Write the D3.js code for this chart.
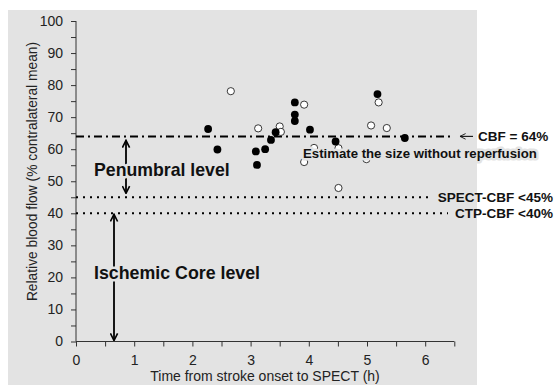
<!DOCTYPE html>
<html>
<head>
<meta charset="utf-8">
<script src="https://cdn.jsdelivr.net/npm/d3@7"></script>
<style>
  body { margin: 0; background: #fff; }
  svg { display: block; font-family: "Liberation Sans", Arial, sans-serif; }
</style>
</head>
<body>
<div id="chart"></div>
<script>
// patients treated (filled) and not (open): time from onset (h), relative CBF (%)
var filledTime = [2.27, 2.43, 3.09, 3.11, 3.25, 3.35, 3.43, 3.76, 3.76, 3.76, 4.02, 4.46, 5.18, 5.65];
var filledCbf  = [66.3, 59.9, 59.3, 55.1, 60.0, 62.9, 65.3, 74.6, 70.8, 68.8, 66.1, 62.4, 77.2, 63.5];
var openTime = [2.66, 3.13, 3.50, 3.52, 3.92, 3.92, 4.09, 4.51, 4.51, 4.99, 5.07, 5.20, 5.34];
var openCbf  = [78.1, 66.5, 67.1, 65.4, 73.9, 56.0, 60.4, 60.3, 47.9, 56.9, 67.4, 74.6, 66.6];

var xTicks = [0, 1, 2, 3, 4, 5, 6];
var yTicks = [0, 10, 20, 30, 40, 50, 60, 70, 80, 90, 100];

// threshold lines
var cbfLine = 64, spectLine = 45, ctpLine = 40;

var W = 555, H = 385;
var bg = "#e3e3e3";

var svg = d3.select("#chart").append("svg")
  .attr("width", W)
  .attr("height", H);

// gray panel behind the plot
svg.append("rect")
  .attr("x", 8).attr("y", 10)
  .attr("width", 469).attr("height", H - 10)
  .attr("fill", bg);

var x = d3.scaleLinear().domain([0, 6.5]).range([76, 454.3]);
var y = d3.scaleLinear().domain([0, 100]).range([341.5, 21]);

// arrow markers
var defs = svg.append("defs");
defs.append("marker")
  .attr("id", "arr")
  .attr("viewBox", "0 0 10 10")
  .attr("refX", 9).attr("refY", 5)
  .attr("markerWidth", 9).attr("markerHeight", 9)
  .attr("markerUnits", "userSpaceOnUse")
  .attr("orient", "auto-start-reverse")
  .append("path")
  .attr("d", "M1,1 L9,5 L1,9")
  .attr("fill", "none")
  .attr("stroke", "#000")
  .attr("stroke-width", 1.8);

defs.append("marker")
  .attr("id", "arrSmall")
  .attr("viewBox", "0 0 10 10")
  .attr("refX", 9).attr("refY", 5)
  .attr("markerWidth", 7).attr("markerHeight", 7)
  .attr("markerUnits", "userSpaceOnUse")
  .attr("orient", "auto")
  .append("path")
  .attr("d", "M1,1 L9,5 L1,9")
  .attr("fill", "none")
  .attr("stroke", "#111")
  .attr("stroke-width", 1.3);

// x axis with half-hour minor ticks
var xAxis = svg.append("g")
  .attr("transform", "translate(0," + y(0) + ")")
  .call(d3.axisBottom(x).tickValues(d3.range(0, 6.51, 0.5)).tickSize(5)
    .tickFormat(function(d){ return xTicks.indexOf(d) >= 0 ? d : ""; }));
xAxis.select(".domain").attr("d", "M" + x(0) + ",0H" + x(6.5)).attr("stroke", "#333");
xAxis.selectAll(".tick line").attr("stroke", "#333");
xAxis.selectAll("text").attr("font-size", 14).attr("fill", "#222").attr("dy", "1.1em");

// y axis with minor ticks every 5
var yAxis = svg.append("g")
  .attr("transform", "translate(" + x(0) + ",0)")
  .call(d3.axisLeft(y).tickValues(d3.range(0, 101, 5)).tickSize(5)
    .tickFormat(function(d){ return yTicks.indexOf(d) >= 0 ? d : ""; }));
yAxis.select(".domain").attr("d", "M0," + y(0) + "V" + y(100)).attr("stroke", "#333");
yAxis.selectAll(".tick line").attr("stroke", "#333");
yAxis.selectAll("text").attr("font-size", 14).attr("fill", "#222").attr("x", -13);

// axis titles
svg.append("text")
  .attr("transform", "translate(" + 37 + "," + 171.5 + ") rotate(-90)")
  .attr("text-anchor", "middle")
  .attr("font-size", 13.8)
  .attr("fill", "#222")
  .text("Relative blood flow (% contralateral mean)");

svg.append("text")
  .attr("x", 265).attr("y", 381)
  .attr("text-anchor", "middle")
  .attr("font-size", 14)
  .attr("fill", "#222")
  .text("Time from stroke onset to SPECT (h)");

// threshold lines
svg.append("line")
  .attr("x1", x(0)).attr("x2", 452)
  .attr("y1", y(cbfLine)).attr("y2", y(cbfLine))
  .attr("stroke", "#000").attr("stroke-width", 2)
  .attr("stroke-dasharray", "8,4,2,4");

svg.append("line")
  .attr("x1", x(0)).attr("x2", 430)
  .attr("y1", y(spectLine)).attr("y2", y(spectLine))
  .attr("stroke", "#000").attr("stroke-width", 2)
  .attr("stroke-dasharray", "2,5");

svg.append("line")
  .attr("x1", x(0)).attr("x2", 448)
  .attr("y1", y(ctpLine)).attr("y2", y(ctpLine))
  .attr("stroke", "#000").attr("stroke-width", 2)
  .attr("stroke-dasharray", "2,5");

// double arrows for the two levels
svg.append("line")
  .attr("x1", 126).attr("x2", 126)
  .attr("y1", y(cbfLine) + 4).attr("y2", y(spectLine) - 4)
  .attr("stroke", "#000").attr("stroke-width", 1.8)
  .attr("marker-start", "url(#arr)").attr("marker-end", "url(#arr)");

svg.append("line")
  .attr("x1", 114).attr("x2", 114)
  .attr("y1", y(ctpLine) + 1).attr("y2", y(0) - 1)
  .attr("stroke", "#000").attr("stroke-width", 1.8)
  .attr("marker-start", "url(#arr)").attr("marker-end", "url(#arr)");

// data points
var filled = d3.zip(filledTime, filledCbf);
var open = d3.zip(openTime, openCbf);

svg.append("g").selectAll("circle")
  .data(open).join("circle")
  .attr("cx", function(d){ return x(d[0]); })
  .attr("cy", function(d){ return y(d[1]); })
  .attr("r", 3.6)
  .attr("fill", "#fff")
  .attr("stroke", "#222")
  .attr("stroke-width", 0.9);

svg.append("g").selectAll("circle")
  .data(filled).join("circle")
  .attr("cx", function(d){ return x(d[0]); })
  .attr("cy", function(d){ return y(d[1]); })
  .attr("r", 3.9)
  .attr("fill", "#000");

// labels, with a gray halo that hides what's behind them
function label(tx, ty, txt, size, halo) {
  var t = svg.append("text")
    .attr("x", tx).attr("y", ty)
    .attr("font-size", size)
    .attr("font-weight", "bold")
    .attr("fill", "#111")
    .text(txt);
  if (halo) {
    t.attr("stroke", bg).attr("stroke-width", 5)
      .attr("stroke-linejoin", "round")
      .attr("paint-order", "stroke");
  }
  return t;
}

label(94, 176, "Penumbral level", 17.7, true);
label(94, 279, "Ischemic Core level", 17.8, true);
label(303, 158, "Estimate the size without reperfusion", 13.2, true);

// right side annotations
svg.append("line")
  .attr("x1", 473).attr("x2", 460)
  .attr("y1", y(cbfLine)).attr("y2", y(cbfLine))
  .attr("stroke", "#111").attr("stroke-width", 1.1)
  .attr("marker-end", "url(#arrSmall)");
label(478, y(cbfLine) + 5, "CBF = 64%", 13.5, false);
label(553, y(spectLine) + 5, "SPECT-CBF <45%", 13.5, false).attr("text-anchor", "end");
label(553, y(ctpLine) + 5, "CTP-CBF <40%", 13.5, false).attr("text-anchor", "end");
</script>
</body>
</html>
